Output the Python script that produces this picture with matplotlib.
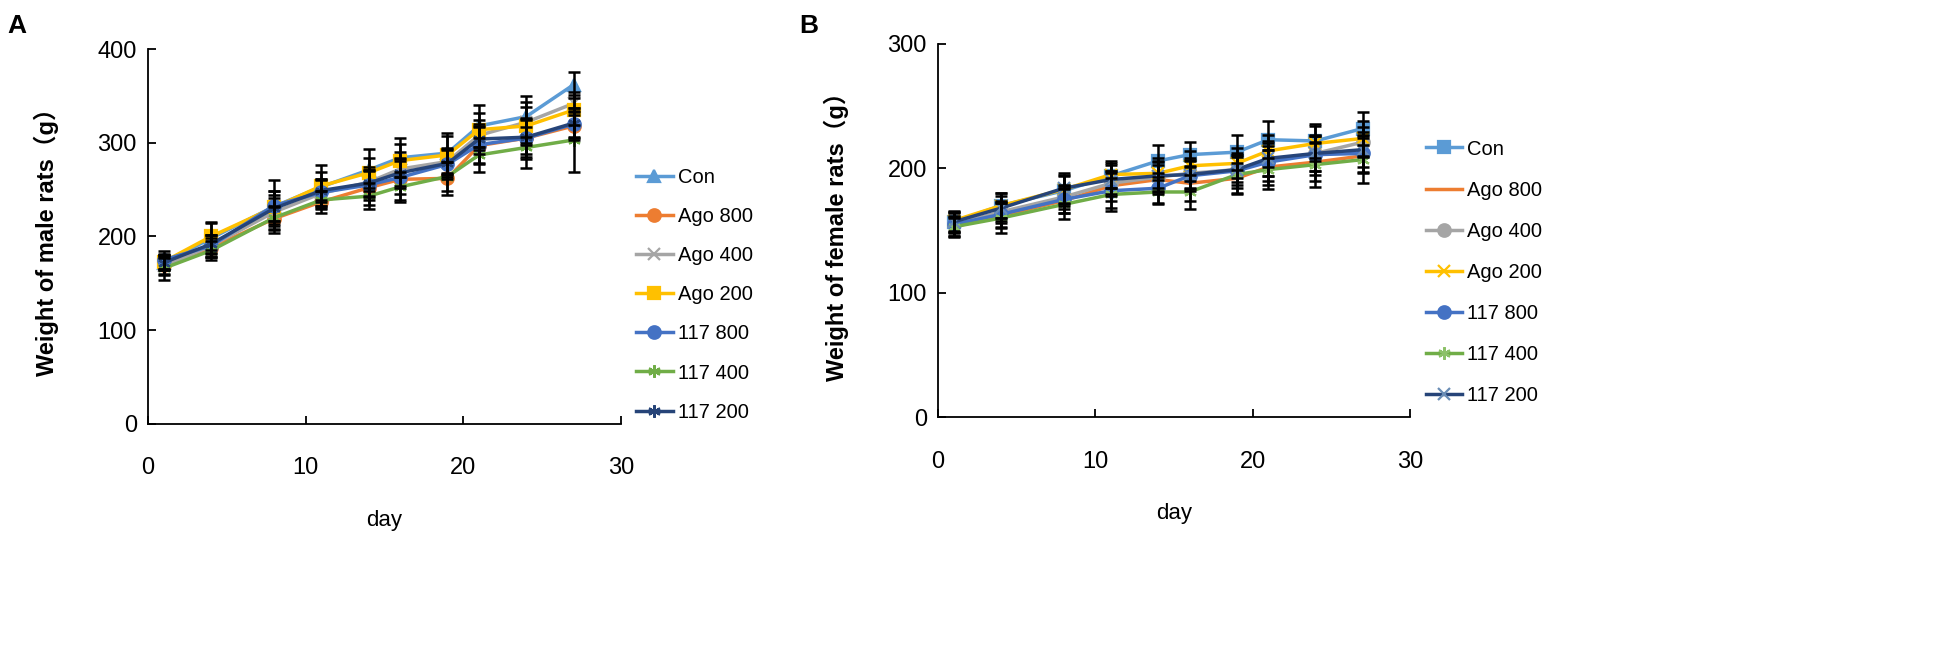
import matplotlib
matplotlib.use("Agg")
import matplotlib.pyplot as plt

plt.rcParams['font.family'] = ['Liberation Sans', 'Noto Sans CJK SC', 'DejaVu Sans']

days = [1, 4, 8, 11, 14, 16, 19, 21, 24, 27]
groups = ["Con", "Ago 800", "Ago 400", "Ago 200", "117 800", "117 400", "117 200"]

# male rats, weight in g
male_con = [172, 198, 232, 253, 271, 284, 289, 318, 328, 362]
male_ago800 = [170, 188, 219, 237, 252, 261, 262, 297, 305, 318]
male_ago400 = [168, 190, 226, 246, 258, 272, 280, 308, 322, 342]
male_ago200 = [173, 200, 231, 254, 268, 281, 287, 314, 318, 335]
male_117_800 = [175, 190, 233, 247, 255, 263, 277, 298, 305, 320]
male_117_400 = [166, 185, 220, 239, 243, 253, 264, 287, 295, 303]
male_117_200 = [172, 192, 230, 249, 257, 268, 278, 304, 306, 321]

male_con_sd = [8, 17, 28, 23, 22, 21, 21, 22, 22, 14]
male_ago800_sd = [10, 10, 12, 12, 18, 22, 18, 20, 20, 15]
male_ago400_sd = [9, 12, 15, 14, 16, 18, 14, 16, 22, 12]
male_ago200_sd = [8, 14, 18, 15, 16, 18, 20, 18, 20, 16]
male_117_800_sd = [10, 12, 16, 14, 16, 18, 16, 20, 22, 14]
male_117_400_sd = [12, 10, 12, 10, 14, 16, 15, 18, 22, 34]
male_117_200_sd = [8, 10, 14, 12, 14, 16, 14, 16, 18, 16]

# female rats, weight in g
female_con = [157, 170, 182, 194, 206, 211, 213, 223, 222, 232]
female_ago800 = [153, 162, 174, 186, 191, 188, 192, 201, 205, 210]
female_ago400 = [155, 165, 177, 188, 193, 196, 199, 206, 212, 221]
female_ago200 = [158, 170, 183, 195, 196, 202, 204, 214, 220, 224]
female_117_800 = [155, 163, 175, 182, 184, 194, 198, 205, 211, 212]
female_117_400 = [153, 160, 171, 179, 181, 181, 195, 199, 203, 207]
female_117_200 = [157, 168, 184, 191, 194, 195, 199, 208, 212, 215]

female_con_sd = [8, 10, 12, 10, 13, 10, 14, 15, 14, 13]
female_ago800_sd = [8, 10, 10, 12, 12, 14, 12, 14, 15, 14]
female_ago400_sd = [7, 9, 10, 10, 12, 12, 10, 12, 14, 12]
female_ago200_sd = [8, 10, 12, 11, 12, 12, 12, 13, 14, 14]
female_117_800_sd = [9, 10, 11, 14, 12, 12, 14, 15, 16, 15]
female_117_400_sd = [7, 12, 12, 13, 10, 14, 16, 16, 18, 19]
female_117_200_sd = [8, 10, 12, 12, 12, 12, 12, 14, 14, 14]

colors = ["#5B9BD5", "#ED7D31", "#A5A5A5", "#FFC000", "#4472C4", "#70AD47", "#264478"]
asterisk = (6, 2, 0)
male_markers = ["^", "o", "x", "s", "o", asterisk, asterisk]
female_markers = ["s", None, "o", "x", "o", asterisk, "x"]
female_marker_edges = [None, None, None, None, None, "#8CC168", "#6A8DB5"]


def draw_panel(ax, series, errors, markers, edges, ylim, ylabel):
    for i, name in enumerate(groups):
        ax.errorbar(days, series[i], yerr=errors[i], fmt="none", ecolor="black",
                    elinewidth=1.8, capsize=4, capthick=1.8, zorder=5)
        mec = edges[i] if edges and edges[i] else colors[i]
        ax.plot(days, series[i], color=colors[i], lw=2.5, marker=markers[i],
                markersize=9, markeredgecolor=mec, markeredgewidth=1.6,
                label=name, zorder=3)
    ax.set_xlim(0, 30)
    ax.set_ylim(*ylim)
    ax.set_xticks([0, 10, 20, 30])
    ax.set_yticks(range(0, ylim[1] + 1, 100))
    for side in ["top", "right"]:
        ax.spines[side].set_visible(False)
    for side in ["left", "bottom"]:
        ax.spines[side].set_linewidth(1.3)
    ax.tick_params(direction="in", length=6, width=1.3, labelsize=17)
    ax.tick_params(axis="x", pad=24)
    ax.tick_params(axis="y", pad=8)
    ax.set_xlabel("day", fontsize=16, labelpad=22)
    ax.set_ylabel(ylabel, fontsize=17, fontweight="bold", labelpad=28)


def main():
    fig = plt.figure(figsize=(19.5, 6.55), dpi=100)
    ax_a = fig.add_axes([0.0759, 0.353, 0.2425, 0.572])
    ax_b = fig.add_axes([0.481, 0.363, 0.242, 0.57])

    male = [male_con, male_ago800, male_ago400, male_ago200,
            male_117_800, male_117_400, male_117_200]
    male_sd = [male_con_sd, male_ago800_sd, male_ago400_sd, male_ago200_sd,
               male_117_800_sd, male_117_400_sd, male_117_200_sd]
    female = [female_con, female_ago800, female_ago400, female_ago200,
              female_117_800, female_117_400, female_117_200]
    female_sd = [female_con_sd, female_ago800_sd, female_ago400_sd, female_ago200_sd,
                 female_117_800_sd, female_117_400_sd, female_117_200_sd]

    draw_panel(ax_a, male, male_sd, male_markers, None, (0, 400),
               "Weight of male rats（g）")
    draw_panel(ax_b, female, female_sd, female_markers, female_marker_edges, (0, 300),
               "Weight of female rats（g）")

    for ax, x, y, gap in [(ax_a, 0.317, 0.55, 1.0), (ax_b, 0.722, 0.584, 1.1)]:
        ax.legend(loc="center left", bbox_to_anchor=(x, y), bbox_transform=fig.transFigure,
                  frameon=False, fontsize=14.5, handlelength=1.8, handletextpad=0.25,
                  labelspacing=gap)

    fig.text(0.004, 0.978, "A", fontsize=19, fontweight="bold", va="top")
    fig.text(0.41, 0.978, "B", fontsize=19, fontweight="bold", va="top")

    fig.savefig("out.png", dpi=100)


if __name__ == "__main__":
    main()
